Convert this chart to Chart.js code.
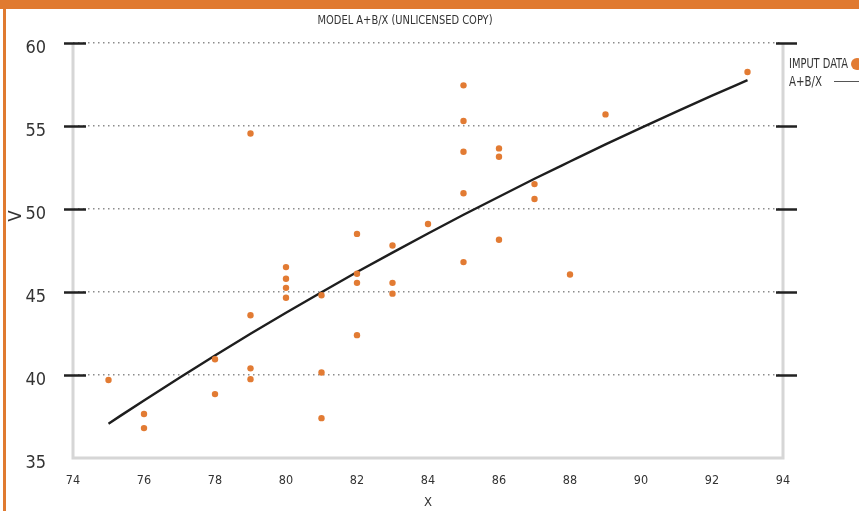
<!DOCTYPE html>
<html>
<head>
<meta charset="utf-8">
<script src="https://cdn.jsdelivr.net/npm/chart.js@4.4.0/dist/chart.umd.min.js"></script>
<style>
  html, body { margin:0; padding:0; background:#fff; }
  #wrap { position:relative; width:859px; height:511px; overflow:hidden; }
  #topbar { position:absolute; left:0; top:0; width:859px; height:9px; background:#e07a30; }
  #leftbar { position:absolute; left:3px; top:0; width:3px; height:511px; background:#e07a30; }
  canvas { position:absolute; left:0; top:0; }
</style>
</head>
<body>
<div id="wrap">
  <canvas id="c" width="859" height="511"></canvas>
  <div id="topbar"></div>
  <div id="leftbar"></div>
</div>
<script>
(function(){
  'use strict';

  const FONT = "'DejaVu Sans Condensed', 'Liberation Sans Narrow', sans-serif";
  const ORANGE = '#e27b33';

  // input data
  const dataX = [75, 76, 76, 78, 78, 79, 79, 79, 79, 80, 80, 80, 80, 81, 81, 81,
                 82, 82, 82, 82, 83, 83, 83, 84, 85, 85, 85, 85, 85, 86, 86, 86,
                 87, 87, 88, 89, 93];
  const dataY = [39.7, 37.65, 36.8, 40.95, 38.85, 54.55, 43.6, 40.4, 39.75, 46.5, 45.8, 45.25, 44.65, 44.8, 40.15, 37.4,
                 48.5, 46.1, 45.55, 42.4, 47.8, 45.55, 44.9, 49.1, 57.45, 55.3, 53.45, 50.95, 46.8, 53.65, 53.15, 48.15,
                 51.5, 50.6, 46.05, 55.7, 58.25];

  // fitted model curve A+B/X
  const modelX = [75, 76, 77, 78, 79, 80, 81, 82, 83, 84, 85, 86, 87, 88, 89, 90, 91, 92, 93];
  const modelY = [37.07, 38.47, 39.84, 41.18, 42.48, 43.75, 44.99, 46.20, 47.37, 48.52,
                  49.65, 50.74, 51.82, 52.86, 53.89, 54.89, 55.87, 56.83, 57.76];

  const xMin = 74, xMax = 94, xStep = 2;
  const yMin = 35, yMax = 60, yStep = 5;

  const titleText = 'MODEL A+B/X (UNLICENSED COPY)';
  const xTitle = 'X';
  const yTitle = 'V';
  const legendLabels = ['IMPUT DATA', 'A+B/X'];

  function pts(xs, ys){ return xs.map((x, i) => ({ x: x, y: ys[i] })); }

  // draw text squeezed horizontally to a given width (narrow look)
  function narrowText(ctx, text, x, y, width, align){
    const w = ctx.measureText(text).width;
    const k = Math.min(1, width / w);
    ctx.save();
    ctx.translate(x, y);
    ctx.scale(k, 1);
    ctx.textAlign = align;
    ctx.fillText(text, 0, 0);
    ctx.restore();
  }

  const decor = {
    id: 'decor',
    beforeDatasetsDraw(chart){
      const { ctx, chartArea: a } = chart;
      ctx.save();
      ctx.strokeStyle = '#d6d6d6';
      ctx.lineWidth = 3;
      ctx.beginPath();
      ctx.moveTo(a.left, a.top);
      ctx.lineTo(a.left, a.bottom);
      ctx.lineTo(a.right, a.bottom);
      ctx.lineTo(a.right, a.top);
      ctx.stroke();
      ctx.restore();
    },
    afterDraw(chart){
      const { ctx, chartArea: a, scales } = chart;
      const y = scales.y;
      ctx.save();
      // heavy tick marks on both sides
      ctx.strokeStyle = '#222';
      ctx.lineWidth = 2.5;
      y.ticks.forEach(t => {
        if (t.value === yMin) return;
        const py = Math.round(y.getPixelForValue(t.value)) + 0.5;
        ctx.beginPath();
        ctx.moveTo(a.left - 9, py); ctx.lineTo(a.left + 13, py);
        ctx.moveTo(a.right - 7, py); ctx.lineTo(a.right + 14, py);
        ctx.stroke();
      });

      // title
      ctx.fillStyle = '#333';
      ctx.textBaseline = 'middle';
      ctx.font = '12.5px ' + FONT;
      narrowText(ctx, titleText, 405, 21, 175, 'center');

      // y axis title
      ctx.save();
      ctx.translate(16, 216);
      ctx.rotate(-Math.PI / 2);
      ctx.font = '18px ' + FONT;
      ctx.textAlign = 'center';
      ctx.fillText(yTitle, 0, 0);
      ctx.restore();

      // legend
      ctx.font = '13.5px ' + FONT;
      ctx.fillStyle = '#333';
      narrowText(ctx, legendLabels[0], 789, 64.5, 59, 'left');
      narrowText(ctx, legendLabels[1], 789, 82.5, 33, 'left');
      ctx.fillStyle = ORANGE;
      ctx.beginPath(); ctx.arc(857, 64, 6, 0, Math.PI * 2); ctx.fill();
      ctx.strokeStyle = '#555';
      ctx.lineWidth = 1;
      ctx.beginPath(); ctx.moveTo(834, 81.5); ctx.lineTo(859, 81.5); ctx.stroke();
      ctx.restore();
    }
  };

  new Chart(document.getElementById('c'), {
    type: 'scatter',
    data: {
      datasets: [
        {
          label: legendLabels[0],
          data: pts(dataX, dataY),
          backgroundColor: ORANGE,
          borderWidth: 0,
          pointRadius: 3.2,
          showLine: false
        },
        {
          label: legendLabels[1],
          data: pts(modelX, modelY),
          showLine: true,
          borderColor: '#1e1e1e',
          borderWidth: 2.4,
          pointRadius: 0,
          cubicInterpolationMode: 'monotone',
          fill: false
        }
      ]
    },
    options: {
      responsive: false,
      animation: false,
      devicePixelRatio: 1,
      layout: { padding: { top: 43, right: 76, left: 0, bottom: 0 } },
      plugins: {
        legend: { display: false },
        title: { display: false },
        tooltip: { enabled: false }
      },
      scales: {
        x: {
          type: 'linear',
          min: xMin, max: xMax,
          afterFit: s => { s.height = 53; },
          grid: { display: false, drawTicks: false },
          border: { display: false },
          ticks: {
            stepSize: xStep,
            padding: 15,
            color: '#333',
            font: { family: FONT, size: 12.5 }
          },
          title: {
            display: true,
            text: xTitle,
            color: '#333',
            padding: { top: 0, bottom: 1 },
            font: { family: FONT, size: 13 }
          }
        },
        y: {
          type: 'linear',
          min: yMin, max: yMax,
          afterFit: s => { s.width = 73; },
          grid: {
            drawTicks: false,
            lineWidth: 1.5,
            color: ctx => (ctx.tick && ctx.tick.value === yMin) ? 'rgba(0,0,0,0)' : '#8c8c8c'
          },
          border: { display: false, dash: [1.5, 3.5] },
          ticks: {
            stepSize: yStep,
            padding: 27,
            labelOffset: 5,
            color: '#333',
            font: { family: FONT, size: 18 }
          }
        }
      }
    },
    plugins: [decor]
  });
})();
</script>
</body>
</html>
